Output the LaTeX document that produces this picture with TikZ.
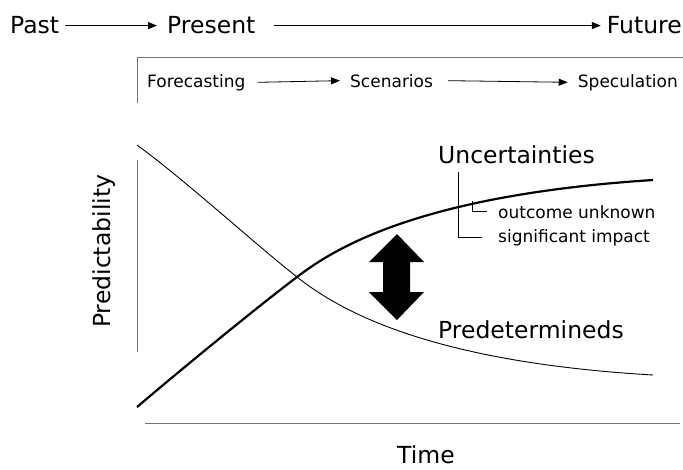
\documentclass[tikz,border=0pt]{standalone}
\usepackage{fontspec}
\setmainfont{DejaVu Sans}
\usetikzlibrary{arrows.meta}
\begin{document}
\begin{tikzpicture}[x=1pt,y=-1pt,
  big/.style={inner sep=0pt,font=\fontsize{23.5}{28}\selectfont},
  small/.style={inner sep=0pt,font=\fontsize{17}{20}\selectfont},
  flow/.style={line width=0.8pt,-{Triangle[length=9pt,width=7pt]}},
  axis/.style={line width=0.8pt,draw=black!55},
  thin curve/.style={line width=0.9pt},
  thick curve/.style={line width=2.2pt},
  bracket/.style={line width=0.7pt}]
\useasboundingbox (0,0) rectangle (683,469);

% time line along the top
\node[big,anchor=base west] (past) at (10,33) {Past};
\node[big,anchor=base west] (present) at (167,33) {Present};
\node[big,anchor=base east] (future) at (682,33) {Future};
\draw[flow] ([xshift=6pt,yshift=-1pt]past.east) -- ([xshift=-10pt,yshift=-1pt]present.west);
\draw[flow] ([xshift=18pt,yshift=-1pt]present.east) -- ([xshift=-6pt,yshift=-1pt]future.west);

% frame and the three methods
\coordinate (frameTL) at (137,57);
\coordinate (frameTR) at (683,57);
\coordinate (frameBL) at (137,103);
\draw[axis] (frameBL) -- (frameTL) -- (frameTR);
\node[small,anchor=base west] (fore) at (147,87) {Forecasting};
\node[small,anchor=base west] (scen) at (350,87) {Scenarios};
\node[small,anchor=base east] (spec) at (678,87) {Speculation};
\draw[flow] ([xshift=12pt]fore.east) -- ([xshift=-10pt]scen.west);
\draw[flow] ([xshift=15pt]scen.east) -- ([xshift=-10pt]spec.west);

% axes
\coordinate (yTop) at (137,160);
\coordinate (yBot) at (137,352);
\coordinate (xL) at (145,423);
\coordinate (xR) at (680,423);
\draw[axis] (yTop) -- (yBot);
\draw[axis] (xL) -- (xR);
\node[big,anchor=base west,rotate=90] (pred) at (110,328) {Predictability};
\node[big,anchor=base] (time) at (426,463) {Time};

% predeterminedness falls away
\draw[thin curve] (137,145) .. controls (185,180) and (255,244) .. (297,277)
  .. controls (340,311) and (430,362) .. (653,375);
% uncertainty rises
\draw[thick curve] (137,407) .. controls (190,362) and (260,305) .. (297,277)
  .. controls (335,248) and (420,195) .. (653,180);

% double-headed arrow between the two curves
\fill (397,234) -- (424,262) -- (410,262) -- (410,292) -- (424,292) -- (397,320)
  -- (369,292) -- (383,292) -- (383,262) -- (369,262) -- cycle;

% labels
\node[big,anchor=base west] (unc) at (438,163) {Uncertainties};
\node[small,anchor=base west] (outc) at (498,218) {outcome unknown};
\node[small,anchor=base west] (sig) at (498,242) {significant impact};
\node[big,anchor=base west] (predet) at (438,338) {Predetermineds};

\coordinate (uncFoot) at (458,172);
\coordinate (onCurve) at (472,201);
\draw[bracket] (uncFoot) |- ([xshift=-16pt]sig.west);
\draw[bracket] (onCurve) |- ([xshift=-11pt]outc.west);
\end{tikzpicture}
\end{document}
